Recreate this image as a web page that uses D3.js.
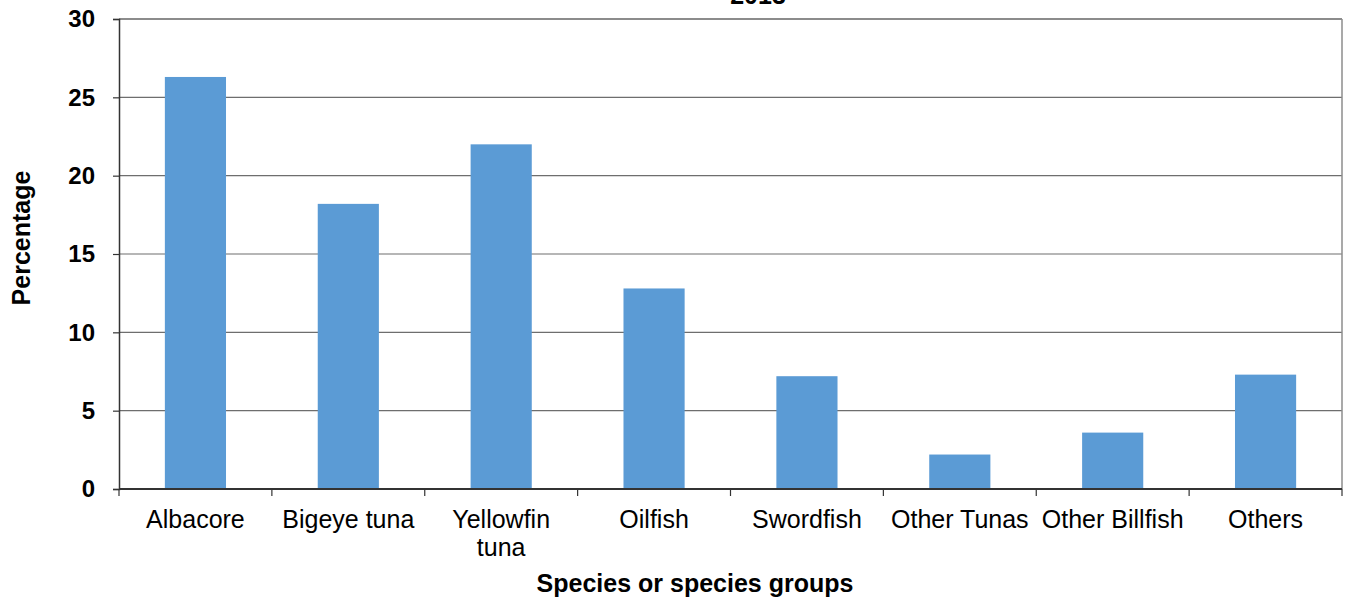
<!DOCTYPE html>
<html><head><meta charset="utf-8">
<script src="https://cdn.jsdelivr.net/npm/d3@7"></script>
<style>body{margin:0;background:#fff;}svg{display:block;font-family:"Liberation Sans",Arial,sans-serif;}</style>
</head><body>
<svg id="c" width="1346" height="601"></svg>
<script>
const categories = ["Albacore","Bigeye tuna","Yellowfin tuna","Oilfish","Swordfish","Other Tunas","Other Billfish","Others"];
const values = [26.3, 18.2, 22.0, 12.8, 7.2, 2.2, 3.6, 7.3];
const yTicks = [0,5,10,15,20,25,30];
const title = "2013";

const svg = d3.select("#c");
const L=119, R=1342, T=19, B=489;
const x = d3.scaleBand().domain(categories).range([L,R]).paddingInner(0.6).paddingOuter(0.3);
const y = d3.scaleLinear().domain([0,30]).range([B,T]);

// gridlines
svg.append("g").selectAll("line").data(yTicks.filter(d=>d>0)).join("line")
  .attr("x1",L).attr("x2",R).attr("y1",d=>y(d)).attr("y2",d=>y(d))
  .attr("stroke",d=>d===30?"#8c8c8c":"#6e6e6e").attr("stroke-width",d=>d===30?2:1.2);
// right border
svg.append("line").attr("x1",R).attr("x2",R).attr("y1",T).attr("y2",B).attr("stroke","#8c8c8c").attr("stroke-width",1.5);

// bars
svg.append("g").selectAll("rect").data(categories).join("rect")
  .attr("x",d=>x(d)).attr("width",x.bandwidth())
  .attr("y",(d,i)=>y(values[i])).attr("height",(d,i)=>B-y(values[i]))
  .attr("fill","#5b9bd5");

// y axis
const ya = svg.append("g").attr("transform",`translate(${L},0)`)
  .call(d3.axisLeft(y).tickValues(yTicks).tickSize(6).tickPadding(18));
ya.select(".domain").attr("stroke","#333").attr("stroke-width",1.5);
ya.selectAll(".tick line").attr("stroke","#333").attr("stroke-width",1.2);
ya.selectAll(".tick text").attr("font-size",24).attr("font-weight","bold").attr("fill","#000")
  .attr("font-family","'Liberation Sans',Arial,sans-serif");

// x axis line + ticks at band boundaries
svg.append("line").attr("x1",L).attr("x2",R).attr("y1",B).attr("y2",B).attr("stroke","#333").attr("stroke-width",2);
const bounds = d3.range(categories.length+1).map(i=>L+i*(R-L)/categories.length);
svg.append("g").selectAll("line").data(bounds).join("line")
  .attr("x1",d=>d).attr("x2",d=>d).attr("y1",B).attr("y2",B+7)
  .attr("stroke","#333").attr("stroke-width",1.2);

// x labels
const xl = svg.append("g").selectAll("text").data(categories).join("text")
  .attr("x",d=>x(d)+x.bandwidth()/2).attr("y",528)
  .attr("text-anchor","middle").attr("font-size",25).attr("fill","#000");
xl.each(function(d){
  const t=d3.select(this);
  if(d==="Yellowfin tuna"){
    t.append("tspan").attr("x",x(d)+x.bandwidth()/2).text("Yellowfin");
    t.append("tspan").attr("x",x(d)+x.bandwidth()/2).attr("dy",28).text("tuna");
  } else t.text(d);
});

// axis titles
svg.append("text").attr("x",695).attr("y",592).attr("text-anchor","middle")
  .attr("font-size",25).attr("font-weight","bold").text("Species or species groups");
svg.append("text").attr("transform","translate(30,238) rotate(-90)").attr("text-anchor","middle")
  .attr("font-size",25).attr("font-weight","bold").text("Percentage");

// title (cut off at top, as in the reference)
svg.append("text").attr("x",758).attr("y",4).attr("text-anchor","middle")
  .attr("font-size",25).attr("font-weight","bold").text(title);
</script>
</body></html>
